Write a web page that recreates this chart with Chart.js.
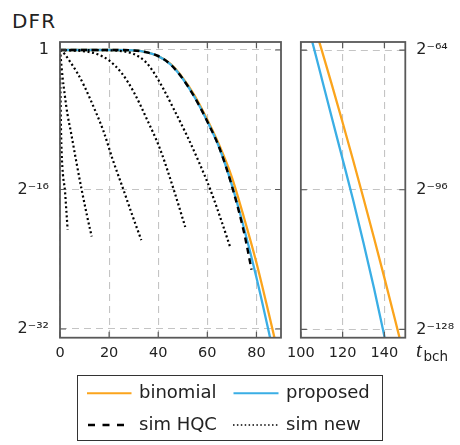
<!DOCTYPE html>
<html>
<head>
<meta charset="utf-8">
<script src="https://cdn.jsdelivr.net/npm/chart.js@4.4.0/dist/chart.umd.min.js"></script>
<style>
  body { margin: 0; background: #fff; }
  #wrap { position: relative; width: 460px; height: 445px; overflow: hidden; font-family: "DejaVu Sans", sans-serif; color: #222; }
  #wrap canvas, #wrap .txt, #wrap svg, #legendBox { position: absolute; }
  .txt { white-space: nowrap; }
  .leg { font-size: 18px; line-height: 18px; }
  #legendBox { left: 77px; top: 375px; width: 306px; height: 66px; border: 1.3px solid #333; box-sizing: border-box; }
</style>
</head>
<body>
<div id="wrap">
  <div id="legendBox"></div>
  <div class="txt" style="left:12px; top:10.5px; font-size:20px; line-height:20px; letter-spacing:1.2px;">DFR</div>
  <canvas id="leftChart" width="290" height="370" style="left:0; top:0;"></canvas>
  <canvas id="rightChart" width="180" height="370" style="left:280px; top:0;"></canvas>
  <div class="txt" style="left:416px; top:340px; font-family:'Liberation Serif', serif; font-style:italic; font-size:21px; line-height:21px;">t</div>
  <div class="txt" style="left:423.5px; top:350px; font-size:13.5px; line-height:13.5px;">bch</div>

  <svg width="460" height="445" style="left:0; top:0;">
    <line x1="87" y1="393.3" x2="131.5" y2="393.3" stroke="#FBA41C" stroke-width="2"/>
    <line x1="233.5" y1="393.3" x2="278.5" y2="393.3" stroke="#3AAEE5" stroke-width="2"/>
    <line x1="88" y1="425" x2="126" y2="425" stroke="#000" stroke-width="2.4" stroke-dasharray="7,7.5"/>
    <line x1="233" y1="425" x2="278" y2="425" stroke="#000" stroke-width="1.6" stroke-dasharray="1.5,2.4"/>
  </svg>
  <div class="txt leg" style="left:139px; top:383.4px;">binomial</div>
  <div class="txt leg" style="left:286px; top:383.4px;">proposed</div>
  <div class="txt leg" style="left:139px; top:415px;">sim HQC</div>
  <div class="txt leg" style="left:286px; top:415px;">sim new</div>
</div>

<script>
// values are log2(DFR)
const binomialT    = [0, 20, 30, 35, 40, 45, 50, 55, 60, 65, 70, 75, 80, 85, 90, 95, 100, 105, 110, 115, 120, 125, 130, 135, 140, 145, 150];
const binomialLog2 = [0, 0, -0.05, -0.25, -0.7, -1.6, -3.2, -5.3, -8.0, -11.0, -14.6, -19.3, -24.4, -30.2, -36.2, -42.5, -49.2, -56.3, -64, -72.2, -80.6, -89.2, -98, -107, -116.2, -125.6, -135.2];

const proposedT    = [0, 20, 30, 35, 40, 45, 50, 55, 60, 65, 70, 75, 80, 85, 90, 95, 100, 105, 110, 115, 120, 125, 130, 135, 140, 145];
const proposedLog2 = [0, 0, -0.05, -0.25, -0.7, -1.65, -3.3, -5.5, -8.2, -11.3, -15.5, -20.5, -26.1, -32.3, -38.8, -45.7, -53, -61.3, -70.5, -79.8, -89, -98.3, -108.2, -118.5, -129.6, -141];

const hqcT    = [0, 5, 10, 15, 20, 25, 30, 35, 40, 45, 50, 55, 60, 65, 70, 75, 78];
const hqcLog2 = [0, 0, 0, 0, 0, 0, -0.05, -0.25, -0.7, -1.65, -3.3, -5.5, -8.2, -11.3, -15.6, -21.0, -25.2];

// "sim new" curves, left to right
const simAT = [0, 0.1, 0.25, 0.4, 0.7, 1.2, 2, 2.6, 3.1];
const simALog2 = [0, -3, -6, -9, -12, -14.3, -16.1, -18.5, -20.6];
const simBT = [0, 0.5, 1, 2, 3, 4.5, 6.5, 8.8, 11, 12.9];
const simBLog2 = [0, -1.5, -3, -5.3, -7.3, -9.5, -12.6, -16, -19, -21.4];
const simCT = [0, 1, 2, 4, 7, 10, 14.4, 17.7, 21.5, 25.8, 29.5, 33.1];
const simCLog2 = [0, -0.2, -0.5, -1.3, -2.6, -4.2, -7.0, -9.3, -12.6, -16, -19, -21.8];
const simDT = [0, 5, 10, 15, 20, 25, 30, 35, 40.8, 46.3, 51];
const simDLog2 = [0, -0.05, -0.15, -0.45, -1.2, -2.6, -4.8, -7.7, -11.4, -16, -20.3];
const simET = [0, 20, 25, 30, 35, 38, 42, 46.2, 52, 56.5, 61.2, 65.5, 69.4];
const simELog2 = [0, -0.03, -0.12, -0.45, -1.4, -2.5, -4.4, -6.7, -10, -12.8, -16, -19.4, -22.7];

const xTicksLeft = [0, 20, 40, 60, 80];
const xTicksRight = [100, 120, 140];
const yTicksLeft = [0, -16, -32];
const yTicksRight = [-64, -96, -128];

const ORANGE = '#FBA41C';
const BLUE = '#3AAEE5';
const SUP = { '-': '\u207B', '0': '\u2070', '1': '\u00B9', '2': '\u00B2', '3': '\u00B3', '4': '\u2074', '5': '\u2075', '6': '\u2076', '7': '\u2077', '8': '\u2078', '9': '\u2079' };

function pts(t, l) {
    return t.map((x, i) => ({ x: x, y: l[i] }));
}

function powLabel(v) {
    if (v === 0) return '1';
    return '2' + String(v).split('').map(c => SUP[c]).join('');
}

Chart.defaults.font.family = "'DejaVu Sans', sans-serif";
Chart.defaults.font.size = 14.5;
Chart.defaults.color = '#222';

// frame round the plot area plus small inward tick marks
const framePlugin = {
    id: 'frame',
    afterDraw(chart) {
        const ctx = chart.ctx;
        const a = chart.chartArea;
        const sx = chart.scales.x;
        const sy = chart.scales.y;
        ctx.save();
        ctx.strokeStyle = '#595959';
        ctx.lineWidth = 1.2;
        ctx.beginPath();
        sx.ticks.forEach(t => {
            const px = sx.getPixelForValue(t.value);
            ctx.moveTo(px, a.bottom); ctx.lineTo(px, a.bottom - 6);
            ctx.moveTo(px, a.top); ctx.lineTo(px, a.top + 6);
        });
        sy.ticks.forEach(t => {
            const py = sy.getPixelForValue(t.value);
            ctx.moveTo(a.left, py); ctx.lineTo(a.left + 6, py);
            ctx.moveTo(a.right, py); ctx.lineTo(a.right - 6, py);
        });
        ctx.stroke();
        ctx.lineWidth = 1.8;
        ctx.strokeRect(a.left, a.top, a.right - a.left, a.bottom - a.top);
        ctx.restore();
    }
};

function lineSet(label, data, color, width, dash) {
    return {
        label: label,
        data: data,
        borderColor: color,
        borderWidth: width,
        borderDash: dash || [],
        borderCapStyle: 'butt',
        pointRadius: 0,
        fill: false,
        cubicInterpolationMode: 'monotone',
        clip: 0
    };
}

function makeOptions(xMin, xMax, xTicks, yMin, yMax, yTicks, yPos, padLeft, yWidth) {
    const gridStyle = { color: '#c4c4c4', lineWidth: 1.1, drawTicks: false };
    return {
        responsive: false,
        animation: false,
        layout: { padding: { left: padLeft, right: yPos === 'left' ? 9 : 0, top: 42, bottom: 0 } },
        plugins: { legend: { display: false }, tooltip: { enabled: false } },
        scales: {
            x: {
                type: 'linear', min: xMin, max: xMax,
                grid: gridStyle,
                border: { display: false, dash: [7, 5] },
                ticks: { padding: 7, maxRotation: 0 },
                afterBuildTicks: s => { s.ticks = xTicks.map(v => ({ value: v })); },
                afterFit: s => { s.height = 32.3; }
            },
            y: {
                type: 'linear', position: yPos, min: yMin, max: yMax,
                grid: gridStyle,
                border: { display: false, dash: [7, 5] },
                ticks: { padding: 11, font: { size: 16 }, callback: v => powLabel(v) },
                afterBuildTicks: s => { s.ticks = yTicks.map(v => ({ value: v })); },
                afterFit: s => { s.width = yWidth; }
            }
        }
    };
}

// left panel, small t
new Chart(document.getElementById('leftChart'), {
    type: 'line',
    data: {
        datasets: [
            lineSet('sim HQC', pts(hqcT, hqcLog2), '#000', 2.4, [6, 4.5]),
            lineSet('sim new', pts(simAT, simALog2), '#000', 2.2, [2, 2.6]),
            lineSet('sim new', pts(simBT, simBLog2), '#000', 2.2, [2, 2.6]),
            lineSet('sim new', pts(simCT, simCLog2), '#000', 2.2, [2, 2.6]),
            lineSet('sim new', pts(simDT, simDLog2), '#000', 2.2, [2, 2.6]),
            lineSet('sim new', pts(simET, simELog2), '#000', 2.2, [2, 2.6]),
            lineSet('proposed', pts(proposedT, proposedLog2), BLUE, 2.3),
            lineSet('binomial', pts(binomialT, binomialLog2), ORANGE, 2.3)
        ]
    },
    options: makeOptions(0, 90, xTicksLeft, -33, 0.92, yTicksLeft, 'left', 0, 60),
    plugins: [framePlugin]
});

// right panel, large t
new Chart(document.getElementById('rightChart'), {
    type: 'line',
    data: {
        datasets: [
            lineSet('proposed', pts(proposedT, proposedLog2), BLUE, 2.3),
            lineSet('binomial', pts(binomialT, binomialLog2), ORANGE, 2.3)
        ]
    },
    options: makeOptions(100, 150, xTicksRight, -129.9, -62.15, yTicksRight, 'right', 17.4, 54.7),
    plugins: [framePlugin]
});
</script>
</body>
</html>
